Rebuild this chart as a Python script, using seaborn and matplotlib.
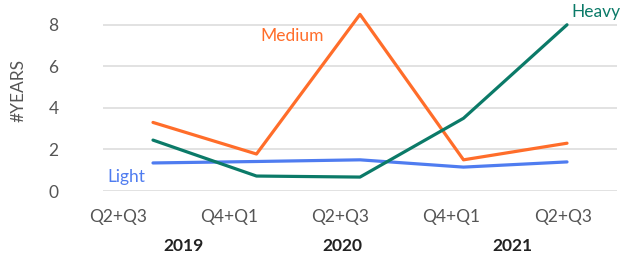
import numpy as np
import pandas as pd
import matplotlib.pyplot as plt
import matplotlib.transforms as mtransforms
import seaborn as sns

periods = ["Q2+Q3", "Q4+Q1", "Q2+Q3", "Q4+Q1", "Q2+Q3"]
years = ["2019", "2020", "2021"]
light = [1.35, 1.42, 1.5, 1.15, 1.4]
medium = [3.3, 1.78, 8.5, 1.5, 2.3]
heavy = [2.45, 0.72, 0.67, 3.5, 8.0]

colors = {"Light": "#4f7cf0", "Medium": "#ff6d2a", "Heavy": "#0b7a68"}

df = pd.DataFrame({
    "idx": list(range(5)) * 3,
    "value": light + medium + heavy,
    "series": ["Light"] * 5 + ["Medium"] * 5 + ["Heavy"] * 5,
})

sns.set_style("white")
plt.rcParams['font.family'] = ['Lato', 'DejaVu Sans']

fig = plt.figure(figsize=(6.2, 2.54), dpi=100)
ax = fig.add_axes([103 / 620, 63 / 254, 514 / 620, 187 / 254])

sns.lineplot(data=df, x="idx", y="value", hue="series", palette=colors,
             linewidth=2.3, legend=False, ax=ax)

ax.set_xlim(-0.483, 4.483)
ax.set_ylim(0, 9)
ax.set_yticks([0, 2, 4, 6, 8])
ax.yaxis.grid(True, color="#dddddd", linewidth=1.2)
ax.xaxis.grid(False)
for s in ax.spines.values():
    s.set_visible(False)

ax.set_xticks(np.linspace(-0.34, 3.96, 5))
ax.set_xticklabels(periods)
ax.tick_params(axis="x", length=0, pad=13, labelsize=12.5, labelcolor="#555555")
ax.tick_params(axis="y", length=0, pad=32, labelsize=12.5, labelcolor="#555555")
ax.set_xlabel("")
ax.set_ylabel("#YEARS", fontsize=12.5, color="#555555")
ax.yaxis.set_label_coords(-0.148, 0.54)

trans = mtransforms.blended_transform_factory(ax.transData, fig.transFigure)
for x, yr in zip([0.29, 1.83, 3.47], years):
    ax.text(x, 8 / 254, yr, transform=trans, ha="center", va="center",
            fontsize=12.5, fontweight="bold", color="#222222")

ax.text(-0.26, 0.68, "Light", color=colors["Light"], fontsize=12.5,
        ha="center", va="center")
ax.text(1.34, 7.45, "Medium", color=colors["Medium"], fontsize=12.5,
        ha="center", va="center")
ax.text(4.28, 8.6, "Heavy", color=colors["Heavy"], fontsize=12.5,
        ha="center", va="center", clip_on=False)

fig.savefig("out.png", dpi=100)
